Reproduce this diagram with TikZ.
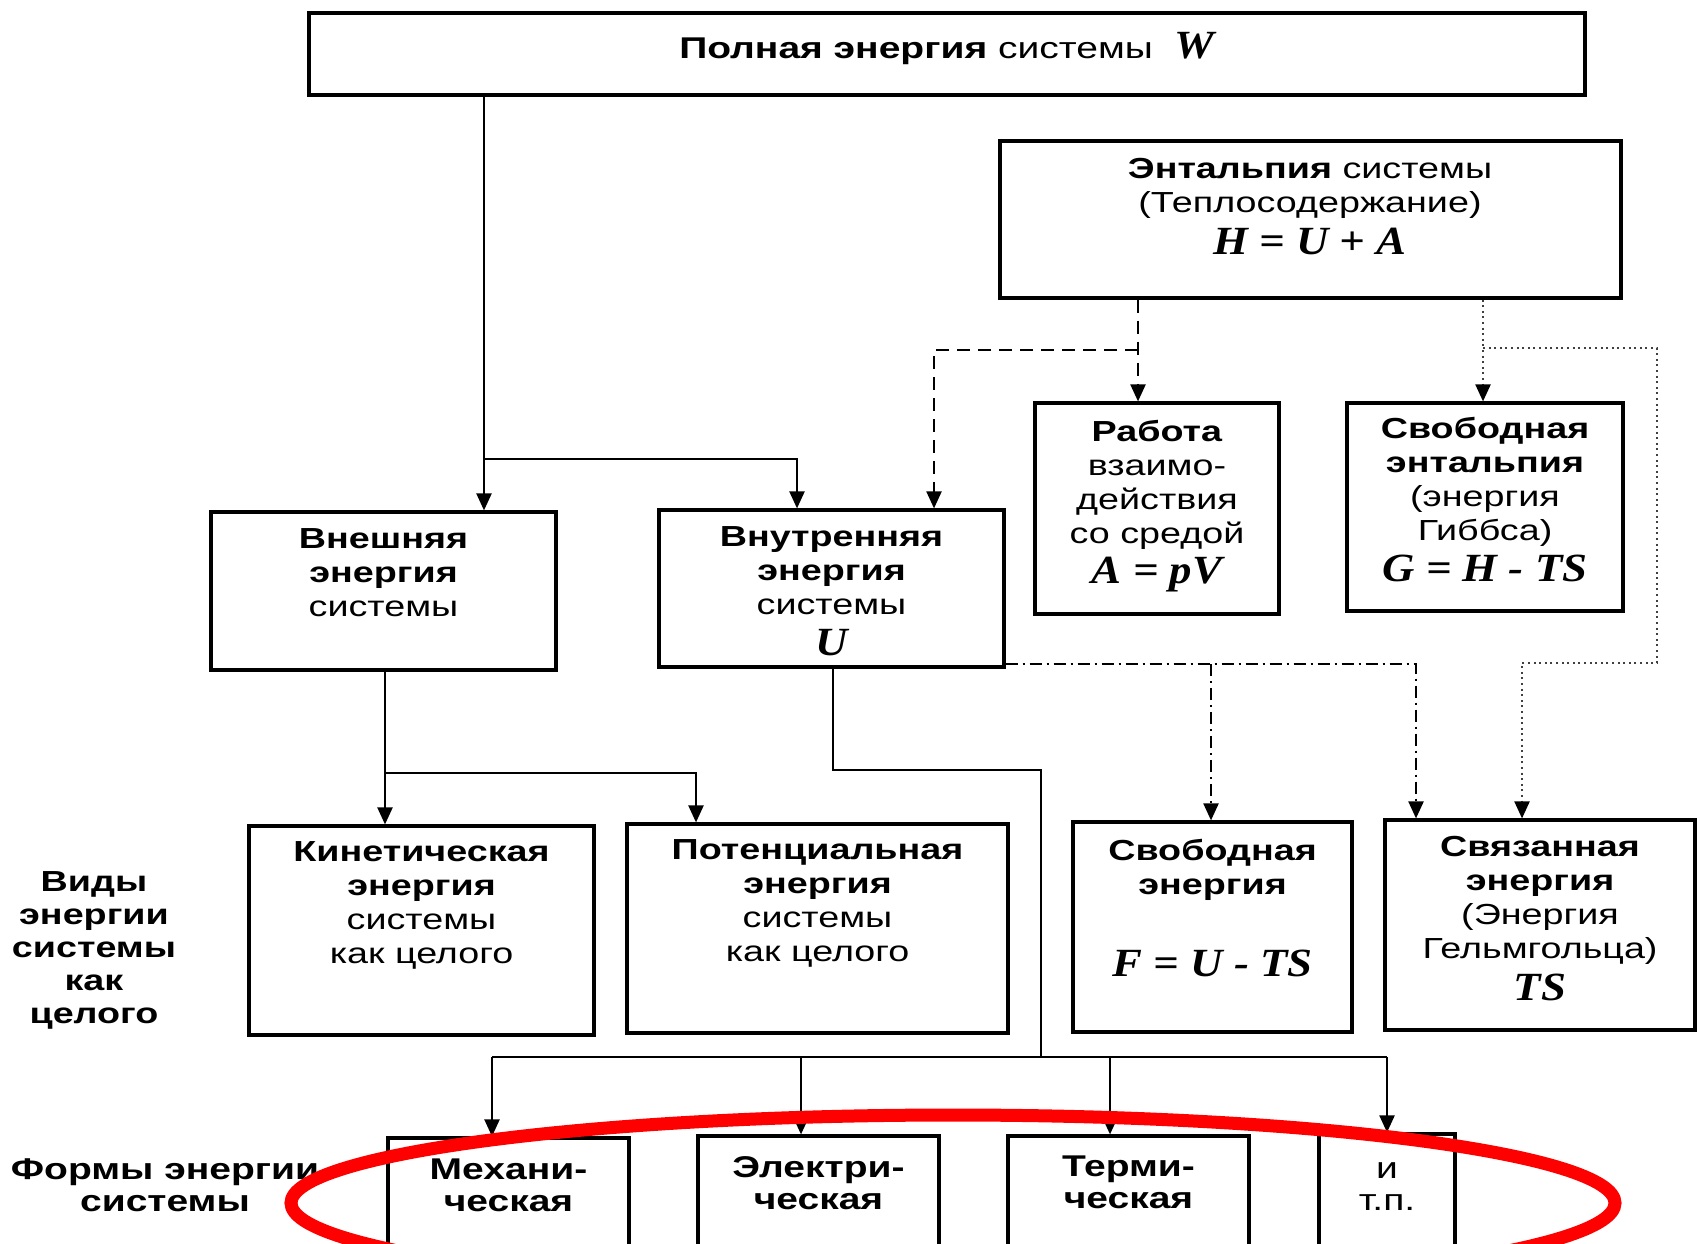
\documentclass[tikz,border=0pt]{standalone}
\usepackage{fontspec}
\setmainfont{Liberation Sans}[FakeStretch=1.3]
\newfontfamily\formfont{Liberation Serif}[FakeStretch=1.12]
\usetikzlibrary{arrows.meta, positioning, fit}
\newcommand{\fml}[1]{{\formfont\bfseries\itshape\fontsize{20pt}{17pt}\selectfont #1}}

\begin{document}
\begin{tikzpicture}[x=0.5pt, y=-0.5pt]
\tikzstyle{box} = [draw, line width=1.6pt, inner sep=0pt]
\tikzstyle{txt} = [align=center, anchor=base, inner sep=0pt, font=\fontsize{14.5pt}{17pt}\selectfont]
\tikzstyle{side} = [txt, font=\fontsize{14.5pt}{16.5pt}\selectfont\bfseries]
\tikzstyle{formtxt} = [txt, font=\fontsize{15pt}{16pt}\selectfont\bfseries]
\tikzstyle{arrow} = [line width=1.1pt, -{Triangle[width=7.5pt,length=8.5pt,color=black]}]
\tikzstyle{link} = [line width=1.1pt]
\tikzstyle{dashlink} = [dash pattern=on 6.5pt off 4pt]
\tikzstyle{dotlink} = [dash pattern=on 1pt off 1.8pt, black!75]
\tikzstyle{dashdotlink} = [dash pattern=on 6pt off 2.5pt on 1pt off 2.5pt]

\useasboundingbox (0,0) rectangle (1700,1243);
\clip (0,0) rectangle (1700,1243);

% boxes
\node[box, fit={(309,13) (1585,95)}] (total) {};
\node[box, fit={(1000,141) (1621,298)}] (enth) {};
\node[box, fit={(1035,403) (1279,614)}] (work) {};
\node[box, fit={(1347,403) (1623,611)}] (fenth) {};
\node[box, fit={(211,512) (556,670)}] (ext) {};
\node[box, fit={(659,510) (1004,667)}] (int) {};
\node[box, fit={(249,826) (594,1035)}] (kin) {};
\node[box, fit={(627,824) (1008,1033)}] (pot) {};
\node[box, fit={(1073,822) (1352,1032)}] (free) {};
\node[box, fit={(1385,820) (1695,1030)}] (bound) {};
\node[box, fit={(388,1138) (629,1260)}] (mech) {};
\node[box, fit={(698,1136) (939,1260)}] (elec) {};
\node[box, fit={(1008,1136) (1249,1260)}] (therm) {};
\node[box, fit={(1319,1134) (1455,1260)}] (etc) {};

% texts (base = last line)
\node[txt, font=\fontsize{15pt}{17pt}\selectfont] (total-t) at (947,58) {\textbf{Полная энергия} системы\hspace{11pt}\fml{W}};
\node[txt] (enth-t) at (1310,254) {\textbf{Энтальпия} системы\\(Теплосодержание)\\[4pt]\fml{H = U + A}};
\node[txt] (work-t) at (1157,583) {\textbf{Работа}\\взаимо-\\действия\\со средой\\[3pt]\fml{A = pV}};
\node[txt] (fenth-t) at (1485,581) {\textbf{Свободная}\\\textbf{энтальпия}\\(энергия\\Гиббса)\\[3.5pt]\fml{G = H - TS}};
\node[txt] (ext-t) at (383.5,616) {\textbf{Внешняя}\\\textbf{энергия}\\системы};
\node[txt] (int-t) at (831.5,655) {\textbf{Внутренняя}\\\textbf{энергия}\\системы\\[3.5pt]\fml{U}};
\node[txt] (kin-t) at (421.5,963) {\textbf{Кинетическая}\\\textbf{энергия}\\системы\\как целого};
\node[txt] (pot-t) at (817.5,961) {\textbf{Потенциальная}\\\textbf{энергия}\\системы\\как целого};
\node[txt] (free-t) at (1212.5,976) {\textbf{Свободная}\\\textbf{энергия}\\[24pt]\fml{F = U - TS}};
\node[txt] (bound-t) at (1540,1000) {\textbf{Связанная}\\\textbf{энергия}\\(Энергия\\Гельмгольца)\\[4pt]\fml{TS}};
\node[formtxt] (mech-t) at (508.5,1211) {Механи-\\ческая};
\node[formtxt] (elec-t) at (818.5,1209) {Электри-\\ческая};
\node[formtxt] (therm-t) at (1128.5,1208) {Терми-\\ческая};
\node[txt, font=\fontsize{15pt}{16pt}\selectfont] (etc-t) at (1387,1210) {и\\т.п.};
\node[side] (kinds) at (94,1023) {Виды\\энергии\\системы\\как\\целого};
\node[formtxt] (forms) at (165,1211) {Формы энергии\\системы};

% branch points
\coordinate (a1) at (484,459);
\coordinate (a2) at (797,459);
\coordinate (b1) at (1138,350);
\coordinate (b2) at (934,350);
\coordinate (c1) at (1483,348);
\coordinate (c2) at (1657,663);
\coordinate (c3) at (1522,663);
\coordinate (d1) at (1211,664);
\coordinate (d2) at (1416,664);
\coordinate (e1) at (385,773);
\coordinate (e2) at (696,773);
\coordinate (f1) at (833,770);
\coordinate (f2) at (1041,1057);
\coordinate (g1) at (492,1057);
\coordinate (g4) at (1387,1057);

% connectors
\draw[arrow] (total.south -| a1) -- (ext.north -| a1);
\draw[arrow] (a1) -| (int.north -| a2);
\draw[arrow, dashlink] (enth.south -| b1) -- (work.north -| b1);
\draw[arrow, dashlink] (b1) -| (int.north -| b2);
\draw[arrow, dotlink] (enth.south -| c1) -- (fenth.north -| c1);
\draw[arrow, dotlink] (c1) -| (c2) -- (c3) -- (bound.north -| c3);
\draw[arrow, dashdotlink] (int.east |- d1) -- (d2) -- (bound.north -| d2);
\draw[arrow, dashdotlink] (d1) -- (free.north -| d1);
\draw[arrow] (ext.south -| e1) -- (kin.north -| e1);
\draw[arrow] (e1) -| (pot.north -| e2);
\draw[link] (int.south -| f1) -- (f1) -| (f2);
\draw[link] (g1) -- (g4);
\foreach \n/\x in {mech/492, elec/801, therm/1110, etc/1387} {
  \coordinate (t-\n) at (\x,1057);
  \draw[arrow] (t-\n) -- (t-\n |- \n.north);
}

% red mark
\draw[red, line width=6.5pt] (953,1203) ellipse [x radius=331pt, y radius=44pt];
\end{tikzpicture}
\end{document}
